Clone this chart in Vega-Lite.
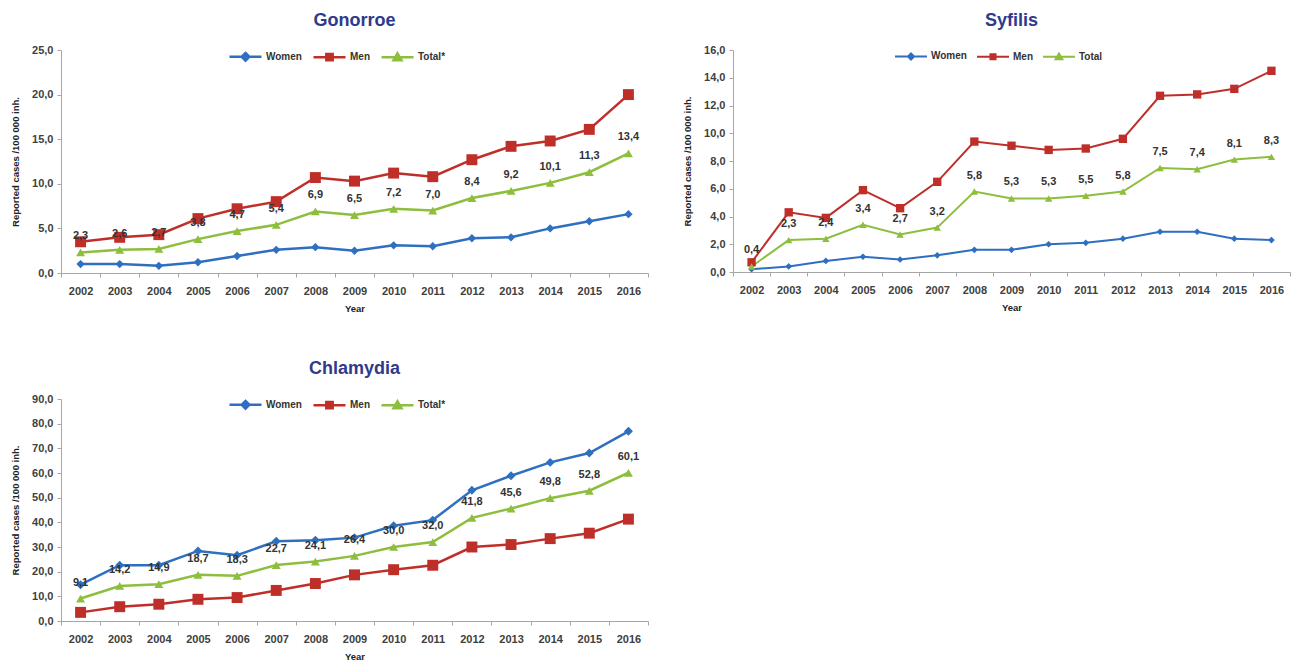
{
  "$schema": "https://vega.github.io/schema/vega-lite/v6.json",
  "background": "white",
  "padding": {"left": 10, "top": 12, "right": 0, "bottom": 0},
  "config": {
    "locale": {"number": {"decimal": ",", "thousands": " ", "grouping": [3], "currency": ["", " kr"]}},
    "view": {"stroke": null},
    "title": {"fontSize": 18, "font": "Liberation Sans", "fontWeight": "bold", "color": "#2E3A8C", "offset": 9, "anchor": "middle"},
    "axis": {"grid": false, "domainColor": "#A6A6A6", "tickColor": "#A6A6A6", "labelFont": "Liberation Sans Narrow, Liberation Sans", "labelFontWeight": "bold", "labelColor": "#404040", "labelFontSize": 11, "titleFont": "Liberation Sans Narrow, Liberation Sans", "titleFontSize": 9.5, "titleFontWeight": "bold", "titleColor": "#222222"},
    "axisX": {"tickBand": "extent", "labelAngle": 0, "tickSize": 4, "labelPadding": 8, "titlePadding": 7},
    "axisY": {"tickSize": 4, "titlePadding": 11, "labelPadding": 4},
    "legend": {"labelFont": "Liberation Sans Narrow, Liberation Sans", "labelFontWeight": "bold", "labelFontSize": 10, "labelColor": "#333333", "labelOffset": 3, "columnPadding": 6}
  },
  "data": {"values": [
    {"d": "Gonorroe", "y": "2002", "Women": 1.0, "Men": 3.5, "Total": 2.3},
    {"d": "Gonorroe", "y": "2003", "Women": 1.0, "Men": 4.0, "Total": 2.6},
    {"d": "Gonorroe", "y": "2004", "Women": 0.8, "Men": 4.3, "Total": 2.7},
    {"d": "Gonorroe", "y": "2005", "Women": 1.2, "Men": 6.1, "Total": 3.8},
    {"d": "Gonorroe", "y": "2006", "Women": 1.9, "Men": 7.2, "Total": 4.7},
    {"d": "Gonorroe", "y": "2007", "Women": 2.6, "Men": 8.0, "Total": 5.4},
    {"d": "Gonorroe", "y": "2008", "Women": 2.9, "Men": 10.7, "Total": 6.9},
    {"d": "Gonorroe", "y": "2009", "Women": 2.5, "Men": 10.3, "Total": 6.5},
    {"d": "Gonorroe", "y": "2010", "Women": 3.1, "Men": 11.2, "Total": 7.2},
    {"d": "Gonorroe", "y": "2011", "Women": 3.0, "Men": 10.8, "Total": 7.0},
    {"d": "Gonorroe", "y": "2012", "Women": 3.9, "Men": 12.7, "Total": 8.4},
    {"d": "Gonorroe", "y": "2013", "Women": 4.0, "Men": 14.2, "Total": 9.2},
    {"d": "Gonorroe", "y": "2014", "Women": 5.0, "Men": 14.8, "Total": 10.1},
    {"d": "Gonorroe", "y": "2015", "Women": 5.8, "Men": 16.1, "Total": 11.3},
    {"d": "Gonorroe", "y": "2016", "Women": 6.6, "Men": 20.0, "Total": 13.4},
    {"d": "Syfilis", "y": "2002", "Women": 0.2, "Men": 0.7, "Total": 0.4},
    {"d": "Syfilis", "y": "2003", "Women": 0.4, "Men": 4.3, "Total": 2.3},
    {"d": "Syfilis", "y": "2004", "Women": 0.8, "Men": 3.9, "Total": 2.4},
    {"d": "Syfilis", "y": "2005", "Women": 1.1, "Men": 5.9, "Total": 3.4},
    {"d": "Syfilis", "y": "2006", "Women": 0.9, "Men": 4.6, "Total": 2.7},
    {"d": "Syfilis", "y": "2007", "Women": 1.2, "Men": 6.5, "Total": 3.2},
    {"d": "Syfilis", "y": "2008", "Women": 1.6, "Men": 9.4, "Total": 5.8},
    {"d": "Syfilis", "y": "2009", "Women": 1.6, "Men": 9.1, "Total": 5.3},
    {"d": "Syfilis", "y": "2010", "Women": 2.0, "Men": 8.8, "Total": 5.3},
    {"d": "Syfilis", "y": "2011", "Women": 2.1, "Men": 8.9, "Total": 5.5},
    {"d": "Syfilis", "y": "2012", "Women": 2.4, "Men": 9.6, "Total": 5.8},
    {"d": "Syfilis", "y": "2013", "Women": 2.9, "Men": 12.7, "Total": 7.5},
    {"d": "Syfilis", "y": "2014", "Women": 2.9, "Men": 12.8, "Total": 7.4},
    {"d": "Syfilis", "y": "2015", "Women": 2.4, "Men": 13.2, "Total": 8.1},
    {"d": "Syfilis", "y": "2016", "Women": 2.3, "Men": 14.5, "Total": 8.3},
    {"d": "Chlamydia", "y": "2002", "Women": 14.7, "Men": 3.5, "Total": 9.1},
    {"d": "Chlamydia", "y": "2003", "Women": 22.6, "Men": 5.8, "Total": 14.2},
    {"d": "Chlamydia", "y": "2004", "Women": 22.6, "Men": 6.8, "Total": 14.9},
    {"d": "Chlamydia", "y": "2005", "Women": 28.4, "Men": 8.8, "Total": 18.7},
    {"d": "Chlamydia", "y": "2006", "Women": 26.7, "Men": 9.5, "Total": 18.3},
    {"d": "Chlamydia", "y": "2007", "Women": 32.3, "Men": 12.4, "Total": 22.7},
    {"d": "Chlamydia", "y": "2008", "Women": 32.7, "Men": 15.2, "Total": 24.1},
    {"d": "Chlamydia", "y": "2009", "Women": 33.8, "Men": 18.7, "Total": 26.4},
    {"d": "Chlamydia", "y": "2010", "Women": 38.6, "Men": 20.8, "Total": 30.0},
    {"d": "Chlamydia", "y": "2011", "Women": 40.9, "Men": 22.6, "Total": 32.0},
    {"d": "Chlamydia", "y": "2012", "Women": 53.0, "Men": 30.0, "Total": 41.8},
    {"d": "Chlamydia", "y": "2013", "Women": 58.9, "Men": 31.0, "Total": 45.6},
    {"d": "Chlamydia", "y": "2014", "Women": 64.3, "Men": 33.4, "Total": 49.8},
    {"d": "Chlamydia", "y": "2015", "Women": 68.1, "Men": 35.6, "Total": 52.8},
    {"d": "Chlamydia", "y": "2016", "Women": 76.9, "Men": 41.3, "Total": 60.1}
  ]},
  "spacing": 47,
  "resolve": {"scale": {"color": "independent"}, "legend": {"color": "independent"}},
  "vconcat": [
    {
      "spacing": 33,
      "resolve": {"scale": {"color": "independent"}, "legend": {"color": "independent"}},
      "hconcat": [
        {
          "title": "Gonorroe",
          "width": 587, "height": 223,
          "transform": [{"filter": "datum.d == 'Gonorroe'"}, {"fold": ["Women", "Men", "Total"], "as": ["s", "v"]}],
          "encoding": {
            "x": {"field": "y", "type": "ordinal", "bandPosition": 0.5, "scale": {"type": "band", "paddingInner": 0, "paddingOuter": 0}, "title": "Year"},
            "y": {"field": "v", "type": "quantitative", "scale": {"domain": [0, 25], "nice": false}, "axis": {"values": [0, 5, 10, 15, 20, 25], "format": ".1f"}, "title": "Reported cases /100 000 inh."},
            "color": {"field": "s", "type": "nominal", "scale": {"domain": ["Women", "Men", "Total"], "range": ["#2E6FC0", "#BF2F2A", "#8DBE3E"]},
              "legend": {"orient": "none", "legendX": 167, "legendY": -11, "direction": "horizontal", "columns": 3, "title": null, "symbolSize": 1024,
                "labelExpr": "datum.label == 'Total' ? 'Total*' : datum.label",
                "symbolType": {"expr": "datum.value == 'Women' ? 'M-1,0H1M0,-0.24L0.24,0L0,0.24L-0.24,0Z' : datum.value == 'Men' ? 'M-1,0H1M-0.2,-0.2H0.2V0.2H-0.2Z' : 'M-1,0H1M0,-0.25L0.25,0.18H-0.25Z'"},
                "symbolStrokeColor": {"expr": "datum.value == 'Women' ? '#2E6FC0' : datum.value == 'Men' ? '#BF2F2A' : '#8DBE3E'"},
                "symbolFillColor": {"expr": "datum.value == 'Women' ? '#2E6FC0' : datum.value == 'Men' ? '#BF2F2A' : '#8DBE3E'"},
                "symbolStrokeWidth": 2.5, "symbolOpacity": 1}}
          },
          "layer": [
            {"mark": {"type": "line", "strokeWidth": 2.5}},
            {"transform": [{"filter": "datum.s == 'Women'"}], "mark": {"type": "point", "filled": true, "opacity": 1, "shape": "diamond", "size": 70}},
            {"transform": [{"filter": "datum.s == 'Men'"}], "mark": {"type": "point", "filled": true, "opacity": 1, "shape": "square", "size": 120}},
            {"transform": [{"filter": "datum.s == 'Total'"}], "mark": {"type": "point", "filled": true, "opacity": 1, "shape": "triangle-up", "size": 80}},
            {"transform": [{"filter": "datum.s == 'Total'"}],
             "mark": {"type": "text", "dy": -16, "font": "Liberation Sans Narrow, Liberation Sans", "fontWeight": "bold", "fontSize": 11},
             "encoding": {"text": {"field": "v", "type": "quantitative", "format": ".1f"}, "color": {"value": "#333333"}}}
          ]
        },
        {
          "title": "Syfilis",
          "width": 557, "height": 222,
          "transform": [{"filter": "datum.d == 'Syfilis'"}, {"fold": ["Women", "Men", "Total"], "as": ["s", "v"]}],
          "encoding": {
            "x": {"field": "y", "type": "ordinal", "bandPosition": 0.5, "scale": {"type": "band", "paddingInner": 0, "paddingOuter": 0}, "title": "Year"},
            "y": {"field": "v", "type": "quantitative", "scale": {"domain": [0, 16], "nice": false}, "axis": {"values": [0, 2, 4, 6, 8, 10, 12, 14, 16], "format": ".1f"}, "title": "Reported cases /100 000 inh."},
            "color": {"field": "s", "type": "nominal", "scale": {"domain": ["Women", "Men", "Total"], "range": ["#2E6FC0", "#BF2F2A", "#8DBE3E"]},
              "legend": {"orient": "none", "legendX": 161, "legendY": -11, "direction": "horizontal", "columns": 3, "title": null, "symbolSize": 1024,
                "symbolType": {"expr": "datum.value == 'Women' ? 'M-1,0H1M0,-0.19L0.19,0L0,0.19L-0.19,0Z' : datum.value == 'Men' ? 'M-1,0H1M-0.16,-0.16H0.16V0.16H-0.16Z' : 'M-1,0H1M0,-0.21L0.21,0.15H-0.21Z'"},
                "symbolStrokeColor": {"expr": "datum.value == 'Women' ? '#2E6FC0' : datum.value == 'Men' ? '#BF2F2A' : '#8DBE3E'"},
                "symbolFillColor": {"expr": "datum.value == 'Women' ? '#2E6FC0' : datum.value == 'Men' ? '#BF2F2A' : '#8DBE3E'"},
                "symbolStrokeWidth": 2, "symbolOpacity": 1}}
          },
          "layer": [
            {"mark": {"type": "line", "strokeWidth": 2}},
            {"transform": [{"filter": "datum.s == 'Women'"}], "mark": {"type": "point", "filled": true, "opacity": 1, "shape": "diamond", "size": 45}},
            {"transform": [{"filter": "datum.s == 'Men'"}], "mark": {"type": "point", "filled": true, "opacity": 1, "shape": "square", "size": 70}},
            {"transform": [{"filter": "datum.s == 'Total'"}], "mark": {"type": "point", "filled": true, "opacity": 1, "shape": "triangle-up", "size": 55}},
            {"transform": [{"filter": "datum.s == 'Total'"}],
             "mark": {"type": "text", "dy": -16, "font": "Liberation Sans Narrow, Liberation Sans", "fontWeight": "bold", "fontSize": 11},
             "encoding": {"text": {"field": "v", "type": "quantitative", "format": ".1f"}, "color": {"value": "#333333"}}}
          ]
        }
      ]
    },
    {
      "title": "Chlamydia",
      "width": 587, "height": 222,
      "transform": [{"filter": "datum.d == 'Chlamydia'"}, {"fold": ["Women", "Men", "Total"], "as": ["s", "v"]}],
      "encoding": {
        "x": {"field": "y", "type": "ordinal", "bandPosition": 0.5, "scale": {"type": "band", "paddingInner": 0, "paddingOuter": 0}, "title": "Year"},
        "y": {"field": "v", "type": "quantitative", "scale": {"domain": [0, 90], "nice": false}, "axis": {"values": [0, 10, 20, 30, 40, 50, 60, 70, 80, 90], "format": ".1f"}, "title": "Reported cases /100 000 inh."},
        "color": {"field": "s", "type": "nominal", "scale": {"domain": ["Women", "Men", "Total"], "range": ["#2E6FC0", "#BF2F2A", "#8DBE3E"]},
          "legend": {"orient": "none", "legendX": 167, "legendY": -12, "direction": "horizontal", "columns": 3, "title": null, "symbolSize": 1024,
            "labelExpr": "datum.label == 'Total' ? 'Total*' : datum.label",
            "symbolType": {"expr": "datum.value == 'Women' ? 'M-1,0H1M0,-0.24L0.24,0L0,0.24L-0.24,0Z' : datum.value == 'Men' ? 'M-1,0H1M-0.2,-0.2H0.2V0.2H-0.2Z' : 'M-1,0H1M0,-0.25L0.25,0.18H-0.25Z'"},
            "symbolStrokeColor": {"expr": "datum.value == 'Women' ? '#2E6FC0' : datum.value == 'Men' ? '#BF2F2A' : '#8DBE3E'"},
            "symbolFillColor": {"expr": "datum.value == 'Women' ? '#2E6FC0' : datum.value == 'Men' ? '#BF2F2A' : '#8DBE3E'"},
            "symbolStrokeWidth": 2.5, "symbolOpacity": 1}}
      },
      "layer": [
        {"mark": {"type": "line", "strokeWidth": 2.5}},
        {"transform": [{"filter": "datum.s == 'Women'"}], "mark": {"type": "point", "filled": true, "opacity": 1, "shape": "diamond", "size": 80}},
        {"transform": [{"filter": "datum.s == 'Men'"}], "mark": {"type": "point", "filled": true, "opacity": 1, "shape": "square", "size": 120}},
        {"transform": [{"filter": "datum.s == 'Total'"}], "mark": {"type": "point", "filled": true, "opacity": 1, "shape": "triangle-up", "size": 80}},
        {"transform": [{"filter": "datum.s == 'Total'"}],
         "mark": {"type": "text", "dy": -16, "font": "Liberation Sans Narrow, Liberation Sans", "fontWeight": "bold", "fontSize": 11},
         "encoding": {"text": {"field": "v", "type": "quantitative", "format": ".1f"}, "color": {"value": "#333333"}}}
      ]
    }
  ]
}
